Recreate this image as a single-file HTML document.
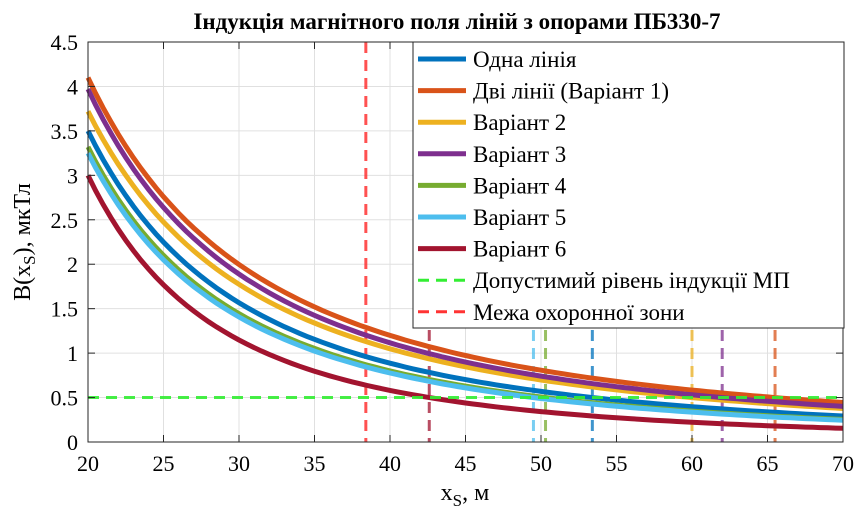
<!DOCTYPE html>
<html><head><meta charset="utf-8"><style>
body{margin:0;background:#fff}
text{font-family:"Liberation Serif","DejaVu Serif","Times New Roman",serif}
</style></head><body>
<svg id="s" width="867" height="525" xmlns="http://www.w3.org/2000/svg" font-family="Liberation Serif, DejaVu Serif, Times New Roman, serif">
<rect width="867" height="525" fill="#fff"/>
<g id="grid"></g>
<g id="vl"></g>
<g id="curves"></g>
<rect x="88" y="42" width="755" height="400" fill="none" stroke="#262626" stroke-width="1"/>
<g id="ticks"></g>
<text x="457" y="29" font-size="23" font-weight="bold" text-anchor="middle" font-family="Liberation Serif, serif">Індукція магнітного поля ліній з опорами ПБ330-7</text>
<text transform="translate(30,242) rotate(-90)" font-size="24" text-anchor="middle" font-family="Liberation Serif, serif">B(x<tspan font-size="17" dy="5">S</tspan><tspan dy="-5">), мкТл</tspan></text>
<text x="465" y="500" font-size="24" text-anchor="middle" font-family="Liberation Serif, serif">x<tspan font-size="17" dy="6">S</tspan><tspan dy="-6">, м</tspan></text>
<g id="leg"></g>
</svg>
<script>
const X=v=>88+(v-20)*15.1, Y=v=>442-v*88.89;
const ns="http://www.w3.org/2000/svg";
function el(p,t,a,txt){const e=document.createElementNS(ns,t);for(const k in a)e.setAttribute(k,a[k]);if(t==="text")e.setAttribute("font-family","Liberation Serif, serif");if(txt!==undefined)e.textContent=txt;document.getElementById(p).appendChild(e);return e;}
for(let v=25;v<70;v+=5)el("grid","line",{x1:X(v),x2:X(v),y1:42,y2:442,stroke:"#e0e0e0"});
for(let v=0.5;v<4.5;v+=0.5)el("grid","line",{x1:88,x2:843,y1:Y(v),y2:Y(v),stroke:"#e0e0e0"});
for(let v=20;v<=70;v+=5){el("ticks","line",{x1:X(v),x2:X(v),y1:442,y2:435,stroke:"#262626"});el("ticks","line",{x1:X(v),x2:X(v),y1:42,y2:49,stroke:"#262626"});el("ticks","text",{x:X(v),y:471,"font-size":22,"text-anchor":"middle"},String(v));}
for(let i=0;i<=9;i++){const v=i*0.5;el("ticks","line",{x1:88,x2:95,y1:Y(v),y2:Y(v),stroke:"#262626"});el("ticks","line",{x1:843,x2:836,y1:Y(v),y2:Y(v),stroke:"#262626"});el("ticks","text",{x:78,y:Y(v)+8,"font-size":22,"text-anchor":"end"},String(v));}
const S=[["#0072BD",3.5,53.4,"Одна лінія"],["#D95319",4.1,65.5,"Дві лінії (Варіант 1)"],["#EDB120",3.72,60,"Варіант 2"],["#7E2F8E",3.97,62,"Варіант 3"],["#77AC30",3.32,50.3,"Варіант 4"],["#4DBEEE",3.25,49.5,"Варіант 5"],["#A2142F",3.0,42.6,"Варіант 6"]];
S.forEach(s=>el("vl","line",{x1:X(s[2]),x2:X(s[2]),y1:42,y2:442,stroke:s[0],"stroke-width":3,"stroke-dasharray":"11 7",opacity:0.75}));
el("vl","line",{x1:X(38.4),x2:X(38.4),y1:42,y2:442,stroke:"#f33",opacity:0.85,"stroke-width":3,"stroke-dasharray":"11 7"});
S.forEach(s=>{const n=Math.log(s[1]/0.5)/Math.log(s[2]/20);let d="";for(let x=20;x<=70.001;x+=0.5){const b=s[1]*Math.pow(x/20,-n);d+=(d?"L":"M")+X(x).toFixed(1)+","+Y(b).toFixed(1);}el("curves","path",{d:d,fill:"none",stroke:s[0],"stroke-width":5});});
el("curves","line",{x1:88,x2:843,y1:Y(0.5),y2:Y(0.5),stroke:"#3e3",opacity:0.9,"stroke-width":3,"stroke-dasharray":"11 7"});
el("leg","rect",{x:413,y:42,width:431,height:286,fill:"#fff",stroke:"#262626"});
const L=S.map(s=>[s[0],s[3],0]).concat([["#3e3","Допустимий рівень індукції МП",1],["#f33","Межа охоронної зони",1]]);
L.forEach((l,i)=>{const y=59+i*31.6;el("leg","line",{x1:418,x2:466,y1:y,y2:y,stroke:l[0],"stroke-width":l[2]?3:5,"stroke-dasharray":l[2]?"11 7":"none"});el("leg","text",{x:473,y:y+8,"font-size":23},l[1]);});
</script>
</body></html>
